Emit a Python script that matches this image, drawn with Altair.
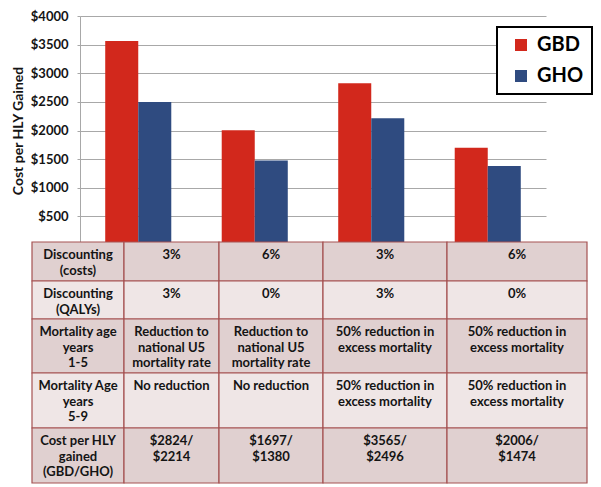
import altair as alt
import pandas as pd

# ---------------- data ----------------
scenarios = ["S1", "S2", "S3", "S4"]
series = ["GBD", "GHO"]
gbd_values = [3565, 2006, 2824, 1697]
gho_values = [2496, 1474, 2214, 1380]
y_ticks = [500, 1000, 1500, 2000, 2500, 3000, 3500, 4000]

row_labels = [
    "Discounting\n(costs)",
    "Discounting\n(QALYs)",
    "Mortality age\nyears\n1-5",
    "Mortality Age\nyears\n5-9",
    "Cost per HLY\ngained\n(GBD/GHO)",
]
table_values = [
    ["3%", "6%", "3%", "6%"],
    ["3%", "0%", "3%", "0%"],
    ["Reduction to\nnational U5\nmortality rate", "Reduction to\nnational U5\nmortality rate",
     "50% reduction in\nexcess mortality", "50% reduction in\nexcess mortality"],
    ["No reduction", "No reduction",
     "50% reduction in\nexcess mortality", "50% reduction in\nexcess mortality"],
    ["$2824/\n$2214", "$1697/\n$1380", "$3565/\n$2496", "$2006/\n$1474"],
]

# ---------------- layout (table geometry, relative units) ----------------
col_widths = [92, 95, 104, 124, 140]
row_heights = [39, 38, 54, 55, 55]

RED = "#d2281c"
BLUE = "#2f4b80"
DARK = "#e0d0d0"
LIGHT = "#efe6e6"
BORDER = "#a55252"
TEXT = "#141414"
FONT = "Lato"

bar_rows = []
for i, s in enumerate(scenarios):
    bar_rows.append({"scenario": s, "series": "GBD", "value": gbd_values[i]})
    bar_rows.append({"scenario": s, "series": "GHO", "value": gho_values[i]})
bar_df = pd.DataFrame(bar_rows)

cells = []
y0 = 0
for r, h in enumerate(row_heights):
    x0 = 0
    texts = [row_labels[r]] + table_values[r]
    for c, w in enumerate(col_widths):
        cells.append({
            "x0": x0, "x1": x0 + w, "xc": x0 + w / 2,
            "y0": y0, "y1": y0 + h, "yt": y0 + 7,
            "text": texts[c],
            "shade": "dark" if r % 2 == 0 else "light",
        })
        x0 += w
    y0 += h
cell_df = pd.DataFrame(cells)
table_w = sum(col_widths)
table_h = sum(row_heights)

xs = alt.Scale(domain=[0, table_w], range=[-48, 507], nice=False, zero=False)
ys = alt.Scale(domain=[0, table_h], range=[226, 226 + table_h], nice=False, zero=False)

bars = alt.Chart(bar_df).mark_bar().encode(
    x=alt.X("scenario:N", sort=scenarios, axis=None,
            scale=alt.Scale(paddingInner=0.433, paddingOuter=0.2165)),
    xOffset=alt.XOffset("series:N", sort=series,
                        scale=alt.Scale(paddingInner=0, paddingOuter=0)),
    y=alt.Y("value:Q", scale=alt.Scale(domain=[0, 4000], nice=False),
            axis=alt.Axis(values=y_ticks, labelExpr="'$' + datum.value",
                          labelFont=FONT, labelFontWeight="bold", labelFontSize=13,
                          labelColor=TEXT, labelPadding=9,
                          title="Cost per HLY Gained", titleFont=FONT,
                          titleFontSize=14, titleFontWeight="bold", titleColor=TEXT,
                          titlePadding=5, grid=True, gridColor="#a8a8a8",
                          domainColor="#a8a8a8", tickColor="#a8a8a8", tickSize=3,
                          zindex=0)),
    color=alt.Color("series:N",
                    scale=alt.Scale(domain=series, range=[RED, BLUE]),
                    legend=alt.Legend(orient="none", legendX=417, legendY=11,
                                      title=None, symbolType="square",
                                      symbolSize=144, symbolStrokeWidth=0,
                                      labelFont=FONT, labelFontSize=20,
                                      labelFontWeight="bold", labelColor="#000",
                                      labelOffset=6, rowPadding=11, padding=8,
                                      symbolOffset=6,
                                      strokeColor="#000", fillColor="#ffffff")),
)

rects = alt.Chart(cell_df).mark_rect(stroke=BORDER, strokeWidth=1.2).encode(
    x=alt.X("x0:Q", scale=xs, axis=None),
    x2="x1:Q",
    y=alt.Y("y0:Q", scale=ys, axis=None),
    y2="y1:Q",
    fill=alt.condition("datum.shade == 'dark'", alt.value(DARK), alt.value(LIGHT)),
)

labels = alt.Chart(cell_df).mark_text(
    align="center", baseline="top", lineBreak="\n", font=FONT,
    fontWeight="bold", fontSize=13, lineHeight=15.5, color=TEXT,
).encode(
    x=alt.X("xc:Q", scale=xs, axis=None),
    y=alt.Y("yt:Q", scale=ys, axis=None),
    text="text:N",
)

chart = alt.layer(bars, rects, labels).resolve_scale(
    x="independent", y="independent"
).properties(
    width=466, height=229,
    autosize=alt.AutoSizeParams(type="none"),
    padding={"left": 72, "top": 8, "right": 47, "bottom": 240},
).configure_view(stroke=None).configure_legend(strokeWidth=2)

chart.save("out.html", embed_options={"renderer": "svg", "actions": False})
